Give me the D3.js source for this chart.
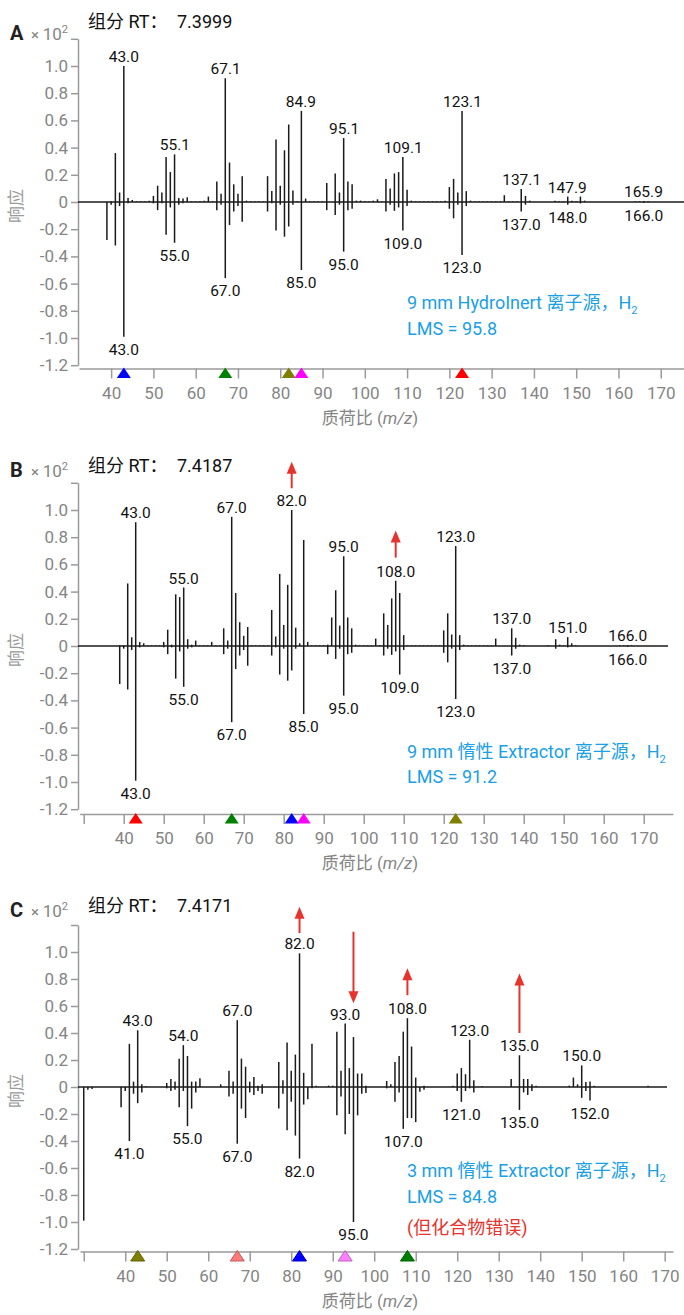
<!DOCTYPE html>
<html lang="zh">
<head>
<meta charset="UTF-8">
<title>spectra</title>
<style>
  body { margin: 0; background: #fff; }
  svg text { font-family: Roboto, "Noto Sans CJK SC", sans-serif; }
</style>
</head>
<body>
<script src="https://d3js.org/d3.v7.min.js"></script>
<script>
// ---- data: [m/z, relative response (x10^2)] ----
const sampleA = [
  [40,0.005],[41,0.36],[42,0.07],[43,1.0],[44,0.03],[45,0.015],[46,0.005],[47,0.005],[48,0.005],[49,0.01],
  [50,0.045],[51,0.12],[52,0.07],[53,0.33],[54,0.22],[55,0.35],[56,0.03],[57,0.025],[58,0.035],[59,0.005],
  [60,0.005],[61,0.005],[62,0.01],[63,0.04],[64,0.005],[65,0.15],[66,0.06],[67,0.91],[68,0.29],[69,0.13],
  [70,0.06],[71,0.19],[72,0.01],[73,0.005],[74,0.005],[75,0.005],[76,0.005],[77,0.19],[78,0.08],[79,0.46],
  [80,0.12],[81,0.38],[82,0.57],[83,0.085],[84,0.005],[85,0.67],[86,0.025],[87,0.005],[88,0.005],[89,0.005],
  [90,0.005],[91,0.14],[93,0.21],[94,0.07],[95,0.47],[96,0.15],[97,0.13],[98,0.01],[99,0.01],
  [100,0.005],[101,0.005],[102,0.01],[103,0.02],[104,0.005],[105,0.17],[106,0.10],[107,0.21],[108,0.22],[109,0.33],
  [110,0.09],[111,0.01],[112,0.005],[113,0.005],[114,0.005],[115,0.005],[116,0.005],[117,0.005],[118,0.005],[119,0.01],
  [120,0.11],[121,0.17],[122,0.07],[123,0.67],[124,0.08],[125,0.01],[126,0.005],[127,0.005],[128,0.005],[129,0.005],
  [130,0.005],[131,0.005],[132,0.005],[133,0.05],[134,0.005],[135,0.005],[136,0.005],[137,0.095],[138,0.045],[139,0.01],
  [145,0.01],[146,0.005],[147,0.005],[148,0.04],[149,0.01],[150,0.005],[151,0.04],[152,0.01],
  [164,0.005],[165,0.005],[166,0.008],[167,0.005]
];
// library spectrum shown below the baseline in A and B (magnitudes)
const libAB = [
  [39,0.28],[40,0.02],[41,0.32],[42,0.03],[43,0.99],[44,0.01],[50,0.01],[51,0.06],[52,0.01],[53,0.24],
  [54,0.04],[55,0.30],[56,0.02],[57,0.01],[65,0.06],[66,0.02],[67,0.56],[68,0.17],[69,0.07],[70,0.03],
  [71,0.145],[77,0.07],[78,0.01],[79,0.21],[80,0.02],[81,0.255],[82,0.18],[83,0.02],[85,0.50],
  [91,0.06],[93,0.095],[94,0.02],[95,0.365],[96,0.06],[97,0.05],
  [105,0.07],[106,0.02],[107,0.065],[108,0.04],[109,0.21],[110,0.03],
  [120,0.05],[121,0.12],[122,0.02],[123,0.39],[124,0.03],
  [137,0.07],[138,0.02],[148,0.02],[151,0.01],[166,0.005]
];
const sampleB = [
  [39,0.005],[40,0.005],[41,0.46],[42,0.064],[43,0.91],[44,0.03],[45,0.02],[46,0.005],[47,0.005],[48,0.005],[49,0.005],
  [50,0.03],[51,0.12],[52,0.01],[53,0.38],[54,0.36],[55,0.43],[56,0.05],[57,0.01],[58,0.04],[59,0.005],
  [60,0.005],[61,0.005],[62,0.03],[63,0.005],[64,0.005],[65,0.13],[66,0.04],[67,0.95],[68,0.39],[69,0.175],
  [70,0.075],[71,0.14],[72,0.005],[73,0.005],[74,0.005],[75,0.005],[76,0.005],[77,0.265],[78,0.07],[79,0.53],
  [80,0.155],[81,0.45],[82,1.0],[83,0.135],[84,0.02],[85,0.78],[86,0.03],[87,0.005],[88,0.005],[89,0.005],
  [90,0.005],[91,0.01],[92,0.21],[93,0.41],[94,0.15],[95,0.66],[96,0.21],[97,0.13],[98,0.01],[99,0.005],
  [100,0.005],[101,0.005],[102,0.005],[103,0.055],[104,0.005],[105,0.24],[106,0.155],[107,0.35],[108,0.48],[109,0.39],
  [110,0.08],[111,0.005],[112,0.005],[113,0.005],[114,0.005],[115,0.005],[116,0.005],[117,0.005],[118,0.005],[119,0.005],
  [120,0.115],[121,0.24],[122,0.085],[123,0.735],[124,0.08],[125,0.01],[126,0.005],[127,0.005],[128,0.005],[129,0.005],
  [130,0.005],[131,0.005],[132,0.005],[133,0.055],[137,0.13],[138,0.06],[139,0.01],[140,0.005],
  [146,0.005],[148,0.05],[149,0.01],[150,0.005],[151,0.065],[152,0.02],[153,0.005],
  [164,0.005],[165,0.005],[166,0.006],[167,0.005]
];
const sampleC = [
  [41,0.32],[42,0.04],[43,0.42],[44,0.02],[45,0.005],[50,0.03],[51,0.06],[52,0.04],[53,0.21],[54,0.31],
  [55,0.23],[56,0.04],[57,0.04],[58,0.065],[63,0.02],[65,0.12],[66,0.04],[67,0.495],[68,0.21],[69,0.15],
  [70,0.04],[71,0.075],[72,0.01],[73,0.02],[77,0.185],[78,0.05],[79,0.33],[80,0.12],[81,0.24],[82,0.99],
  [83,0.105],[85,0.32],[86,0.01],[89,0.01],[90,0.01],[91,0.41],[92,0.12],[93,0.47],[94,0.14],[95,0.37],
  [96,0.10],[97,0.10],[98,0.01],[103,0.045],[104,0.02],[105,0.185],[106,0.23],[107,0.41],[108,0.51],[109,0.30],
  [110,0.07],[112,0.01],[119,0.01],[120,0.10],[121,0.14],[122,0.095],[123,0.35],[124,0.05],[126,0.005],
  [133,0.06],[135,0.235],[136,0.06],[137,0.06],[138,0.02],[139,0.01],
  [147,0.01],[148,0.07],[149,0.02],[150,0.16],[151,0.037],[152,0.04],[153,0.01],[166,0.01]
];
const libC = [
  [30,0.99],[31,0.02],[32,0.015],[39,0.15],[40,0.03],[41,0.40],[42,0.05],[43,0.12],[44,0.04],
  [50,0.01],[51,0.03],[52,0.02],[53,0.15],[54,0.03],[55,0.29],[56,0.16],[57,0.04],
  [65,0.07],[66,0.05],[67,0.42],[68,0.16],[69,0.23],[70,0.04],[71,0.06],[72,0.03],[73,0.05],
  [77,0.16],[78,0.05],[79,0.32],[80,0.11],[81,0.36],[82,0.53],[83,0.13],[84,0.09],[85,0.01],
  [91,0.21],[92,0.07],[93,0.35],[94,0.20],[95,1.0],[96,0.21],[97,0.05],[98,0.045],
  [103,0.01],[105,0.11],[106,0.04],[107,0.31],[108,0.23],[109,0.23],[110,0.26],[111,0.035],[112,0.02],
  [120,0.03],[121,0.11],[122,0.03],[123,0.01],[124,0.04],
  [135,0.17],[136,0.04],[137,0.06],[138,0.03],[150,0.08],[151,0.03],[152,0.10]
];

// peak labels (m/z)
const labelsAup = [43.0, 55.1, 67.1, 84.9, 95.1, 109.1, 123.1, 137.1, 147.9, 165.9];
const labelsAdn = [43.0, 55.0, 67.0, 85.0, 95.0, 109.0, 123.0, 137.0, 148.0, 166.0];
const labelsBup = [43.0, 55.0, 67.0, 82.0, 95.0, 108.0, 123.0, 137.0, 151.0, 166.0];
const labelsBdn = [43.0, 55.0, 67.0, 85.0, 95.0, 109.0, 123.0, 137.0, 166.0];
const labelsCup = [43.0, 54.0, 67.0, 82.0, 93.0, 108.0, 123.0, 135.0, 150.0];
const labelsCdn = [41.0, 55.0, 67.0, 82.0, 95.0, 107.0, 121.0, 135.0, 152.0];

// ion markers under the x axis
const markerMzA = [43, 67, 82, 85, 123];
const markerColA = ['#0000ff', '#008000', '#808000', '#ff00ff', '#ff0000'];
const markerMzB = [43, 67, 82, 85, 123];
const markerColB = ['#ff0000', '#008000', '#0000ff', '#ff00ff', '#808000'];
const markerMzC = [43, 67, 82, 93, 108];
const markerColC = ['#808000', '#ff7a7a', '#0000ff', '#ff80ff', '#008000'];

// red arrows: [m/z, tail response, tip response]
const arrowsB = [[82, 1.16, 1.355], [108, 0.65, 0.85]];
const arrowsC = [[82, 1.14, 1.335], [95, 1.15, 0.62], [108, 0.68, 0.88], [135, 0.40, 0.84]];

const xTicksA = [40, 50, 60, 70, 80, 90, 100, 110, 120, 130, 140, 150, 160, 170];
const xTicksBC = [30, 40, 50, 60, 70, 80, 90, 100, 110, 120, 130, 140, 150, 160, 170];
const yTicks = [-1.2, -1.0, -0.8, -0.6, -0.4, -0.2, 0, 0.2, 0.4, 0.6, 0.8, 1.0, 1.2];

const panels = [
  {letter: 'A', rt: '7.3999', sample: sampleA, lib: libAB, up: labelsAup, dn: labelsAdn,
   mk: markerMzA, mkCol: markerColA, arrows: [], ticks: xTicksA, outline: false,
   zero: 202, unit: 136, mzDom: [32.4, 175.5], xr: [79, 684], xAxisY: 368.5, baseEnd: 684,
   letterY: 39.5, titleY: 28, notes: ['9 mm HydroInert 离子源，H', 'LMS = 95.8'], noteY: [309, 335]},
  {letter: 'B', rt: '7.4187', sample: sampleB, lib: libAB, up: labelsBup, dn: labelsBdn,
   mk: markerMzB, mkCol: markerColB, arrows: arrowsB, ticks: xTicksBC, outline: false,
   zero: 646, unit: 136, mzDom: [29, 177.3], xr: [79.7, 672.9], xAxisY: 814, baseEnd: 668,
   letterY: 477, titleY: 471.5, notes: ['9 mm 惰性 Extractor 离子源，H', 'LMS = 91.2'], noteY: [758, 783]},
  {letter: 'C', rt: '7.4171', sample: sampleC, lib: libC, up: labelsCup, dn: labelsCdn,
   mk: markerMzC, mkCol: markerColC, arrows: arrowsC, ticks: xTicksBC, outline: true,
   zero: 1087, unit: 135, mzDom: [29.1, 172], xr: [80, 673], xAxisY: 1251.5, baseEnd: 667,
   letterY: 917, titleY: 911.5, notes: ['3 mm 惰性 Extractor 离子源，H', 'LMS = 84.8'], noteY: [1177, 1203],
   warn: '(但化合物错误)', warnY: 1234}
];

const svg = d3.select('body').append('svg')
  .attr('width', 684).attr('height', 1315);

const axisCol = '#9a9a9a', tickTextCol = '#858585', barCol = '#1a1a1a';
const blue = '#1aa0e4', red = '#e8322c';

panels.forEach(p => {
  const g = svg.append('g');
  const x = d3.scaleLinear().domain(p.mzDom).range(p.xr);
  const y = d3.scaleLinear().domain([-1.2, 1.2]).range([p.zero + 1.2 * p.unit, p.zero - 1.2 * p.unit]);

  // y axis
  const ya = g.append('g').attr('transform', 'translate(78,0)')
    .call(d3.axisLeft(y).tickValues(yTicks).tickSize(7).tickPadding(3).tickSizeOuter(0)
      .tickFormat(v => Math.abs(v) < 1e-9 ? '0' : (v > 1.1 ? '' : v.toFixed(1))));
  ya.select('.domain').attr('stroke', axisCol).attr('stroke-width', 1.5);
  ya.selectAll('.tick line').attr('stroke', axisCol).attr('stroke-width', 1.5);
  ya.selectAll('.tick text').attr('fill', tickTextCol).style('font-size', '17px');

  // x axis
  const xa = g.append('g').attr('transform', `translate(0,${p.xAxisY})`)
    .call(d3.axisBottom(x).tickValues(p.ticks).tickSize(10).tickPadding(8).tickSizeOuter(0)
      .tickFormat(v => v === 30 ? '' : v));
  xa.select('.domain').attr('stroke', axisCol).attr('stroke-width', 1.5);
  xa.selectAll('.tick line').attr('stroke', axisCol).attr('stroke-width', 1.5);
  xa.selectAll('.tick text').attr('fill', tickTextCol).style('font-size', '17px');

  // zero line
  g.append('line').attr('x1', 78).attr('x2', p.baseEnd)
    .attr('y1', y(0)).attr('y2', y(0)).attr('stroke', barCol).attr('stroke-width', 1.3);

  // sample (up) and library (down) sticks
  g.append('g').selectAll('line').data(p.sample).join('line')
    .attr('x1', d => x(d[0])).attr('x2', d => x(d[0]))
    .attr('y1', y(0)).attr('y2', d => y(d[1]))
    .attr('stroke', barCol).attr('stroke-width', 1.5);
  g.append('g').selectAll('line').data(p.lib).join('line')
    .attr('x1', d => x(d[0])).attr('x2', d => x(d[0]))
    .attr('y1', y(0)).attr('y2', d => y(-d[1]))
    .attr('stroke', barCol).attr('stroke-width', 1.5);

  // peak labels
  const valAt = (arr, m) => { const f = arr.find(d => d[0] === Math.round(m)); return f ? f[1] : 0; };
  g.append('g').selectAll('text').data(p.up).join('text')
    .attr('x', d => x(d)).attr('y', d => y(valAt(p.sample, d)) - 4)
    .attr('text-anchor', 'middle').attr('fill', '#111').style('font-size', '15.5px')
    .text(d => d.toFixed(1));
  g.append('g').selectAll('text').data(p.dn).join('text')
    .attr('x', d => x(d)).attr('y', d => y(-valAt(p.lib, d)) + 18)
    .attr('text-anchor', 'middle').attr('fill', '#111').style('font-size', '15.5px')
    .text(d => d.toFixed(1));

  // markers
  const ay = p.xAxisY;
  g.append('g').selectAll('path').data(p.mk).join('path')
    .attr('d', m => `M${x(m)},${ay - 1}L${x(m) + 7},${ay + 9.5}L${x(m) - 7},${ay + 9.5}Z`)
    .attr('fill', (m, i) => p.mkCol[i])
    .attr('stroke', (m, i) => p.outline ? d3.color(p.mkCol[i]).darker(0.8) : 'none')
    .attr('stroke-width', 1);

  // arrows
  p.arrows.forEach(a => {
    const ax = x(a[0]), y1 = y(a[1]), y2 = y(a[2]);
    const dir = y2 < y1 ? -1 : 1;
    g.append('line').attr('x1', ax).attr('x2', ax).attr('y1', y1).attr('y2', y2 - dir * 8)
      .attr('stroke', red).attr('stroke-width', 2);
    g.append('path')
      .attr('d', `M${ax},${y2}L${ax + 5},${y2 - dir * 12}L${ax - 5},${y2 - dir * 12}Z`)
      .attr('fill', red);
  });

  // panel letter, scale factor, title
  g.append('text').attr('x', 10).attr('y', p.letterY).attr('fill', '#222')
    .style('font-size', '20px').style('font-weight', 700).text(p.letter);
  const sc = g.append('text').attr('x', 31).attr('y', p.letterY).attr('fill', tickTextCol).style('font-size', '17px');
  sc.append('tspan').style('font-size', '15px').text('× ');
  sc.append('tspan').text('10');
  sc.append('tspan').attr('dy', -7).style('font-size', '11px').text('2');

  g.append('text').attr('x', 88).attr('y', p.titleY).attr('fill', '#111')
    .style('font-size', '18px').text('组分 RT：');
  g.append('text').attr('x', 177).attr('y', p.titleY).attr('fill', '#111')
    .style('font-size', '18px').text(p.rt);

  // axis titles
  g.append('text').attr('transform', `translate(22,${p.zero + 4}) rotate(-90)`)
    .attr('text-anchor', 'middle').attr('fill', axisCol).style('font-size', '17px').text('响应');
  const xt = g.append('text').attr('x', 370).attr('y', p.xAxisY + 55)
    .attr('text-anchor', 'middle').attr('fill', tickTextCol).style('font-size', '17px');
  xt.append('tspan').text('质荷比 (');
  xt.append('tspan').style('font-style', 'italic').text('m/z');
  xt.append('tspan').text(')');

  // notes
  const n1 = g.append('text').attr('x', 407).attr('y', p.noteY[0]).attr('fill', blue).style('font-size', '18px');
  n1.append('tspan').text(p.notes[0]);
  n1.append('tspan').attr('dy', 5).style('font-size', '11px').text('2');
  g.append('text').attr('x', 407).attr('y', p.noteY[1]).attr('fill', blue).style('font-size', '18px').text(p.notes[1]);
  if (p.warn) {
    g.append('text').attr('x', 407).attr('y', p.warnY).attr('fill', red).style('font-size', '18px').text(p.warn);
  }
});
</script>
</body>
</html>
